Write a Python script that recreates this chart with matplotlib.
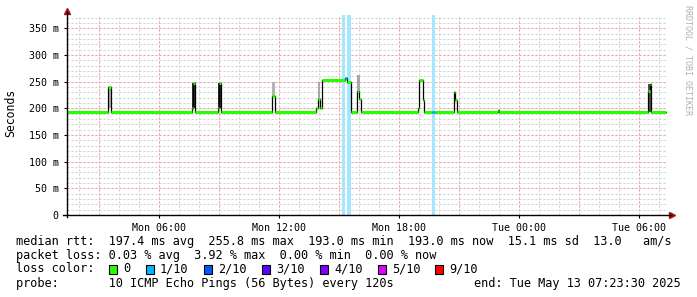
import numpy as np
import matplotlib
matplotlib.use("Agg")
import matplotlib.pyplot as plt
from matplotlib.patches import Rectangle

# median rtt (ms) as steps; time = hours since Mon 00:00
med_t = [1.40, 3.45, 3.60, 7.65, 7.72, 7.80, 8.95, 9.00, 9.08, 11.67, 11.78,
         13.85, 13.95, 14.03, 14.17, 15.28, 15.40, 15.60, 15.92, 16.00, 16.10,
         18.93, 18.98, 19.20, 19.25, 19.65, 19.80, 20.75, 20.82, 20.90,
         22.95, 23.00, 30.45, 30.55, 30.62, 31.35]
med_v = [193, 240, 193, 200, 248, 193, 200, 248, 193, 223, 193,
         200, 217, 200, 253, 256, 250, 193, 232, 218, 193,
         200, 253, 216, 193, 193, 193, 230, 216, 193,
         196, 193, 232, 245, 193]
med_loss = [0, 0, 0, 0, 0, 0, 0, 0, 0, 0, 0,
            0, 0, 0, 0, 1, 0, 0, 0, 0, 0,
            0, 0, 0, 0, 1, 0, 0, 0, 0,
            0, 0, 0, 0, 0]

# smoke (min/max spread of the pings)
smoke_t0 = [3.45, 7.65, 8.95, 11.67, 13.95, 15.92, 30.45]
smoke_t1 = [3.60, 7.80, 9.08, 11.78, 14.03, 16.05, 30.62]
smoke_lo = [200, 200, 200, 223, 217, 232, 193]
smoke_hi = [240, 248, 248, 250, 250, 262, 245]
smoke_col = ['#b4b4b4', '#303030', '#303030', '#b4b4b4', '#a8a8a8', '#a8a8a8', '#505050']

# loss bars
lossbar_t0 = [15.17, 15.42, 19.65]
lossbar_t1 = [15.32, 15.62, 19.80]

loss_labels = ['0', '1/10', '2/10', '3/10', '4/10', '5/10', '9/10']
loss_colors = ['#26ff00', '#00b8ff', '#0059ff', '#5e00ff', '#7e00ff', '#dd00ff', '#ff0000']

xtick_pos = [6, 12, 18, 24, 30]
xtick_lab = ['Mon 06:00', 'Mon 12:00', 'Mon 18:00', 'Tue 00:00', 'Tue 06:00']
ytick_pos = [0, 50, 100, 150, 200, 250, 300, 350]

W, H = 697, 297
mono = 'DejaVu Sans Mono'
fig = plt.figure(figsize=(W / 100, H / 100), dpi=100)
ax = fig.add_axes([67 / W, 82 / H, 600 / W, 200 / H])
ax.set_xlim(1.4, 31.4)
ax.set_ylim(0, 375)

kw = dict(lw=0.72, linestyles=(0, (2, 2)))
ax.vlines(np.arange(2, 32, 1), 0, 375, colors='#d0d0d0', zorder=0.5, **kw)
ax.hlines(np.arange(10, 375, 10), 1.4, 31.4, colors='#d0d0d0', zorder=0.5, **kw)
ax.vlines(np.arange(3, 32, 3), 0, 375, colors='#f0a0a0', zorder=0.6, **kw)
ax.hlines(np.arange(50, 375, 50), 1.4, 31.4, colors='#f0a0a0', zorder=0.6, **kw)

for a, b in zip(lossbar_t0, lossbar_t1):
    ax.axvspan(a, b, color='#a6e6ff', lw=0, zorder=1)

ax.bar(smoke_t0, np.array(smoke_hi) - np.array(smoke_lo), bottom=smoke_lo,
       width=np.array(smoke_t1) - np.array(smoke_t0), align='edge',
       color=smoke_col, lw=0, zorder=2)

ax.step(med_t, med_v + [med_v[-1]], where='post', color='black', lw=0.9, zorder=3)
ax.hlines(med_v, med_t[:-1], med_t[1:], colors=[loss_colors[i] for i in med_loss],
          lw=2.2, zorder=4)

for s in ax.spines.values():
    s.set_visible(False)
ax.plot([-0.007, 1.006], [0, 0], color='black', lw=1, transform=ax.transAxes, clip_on=False, zorder=5)
ax.plot([0, 0], [-0.01, 1.015], color='black', lw=1, transform=ax.transAxes, clip_on=False, zorder=5)
ax.plot([1.009], [0], marker='>', ms=4, color='#a01010', mec='#a01010',
        transform=ax.transAxes, clip_on=False)
ax.plot([0], [1.02], marker='^', ms=4, color='#a01010', mec='#a01010',
        transform=ax.transAxes, clip_on=False)

ax.set_xticks(xtick_pos)
ax.set_xticklabels(xtick_lab, fontfamily=mono, fontsize=7.2)
ax.set_yticks(ytick_pos)
ax.set_yticklabels([f'{v} m' if v else '0' for v in ytick_pos], fontfamily=mono, fontsize=7.2)
ax.tick_params(axis='both', length=2, width=0.8, color='black', pad=4)

fig.text(11 / W, 1 - 113 / H, 'Seconds', rotation=90, fontfamily=mono, fontsize=8.3,
         ha='center', va='center')
fig.text(688 / W, 1 - 60 / H, 'RRDTOOL / TOBI OETIKER', rotation=270, fontfamily=mono,
         fontsize=6, color='#b0b0b0', ha='center', va='center')

fs = 8.53
def line(y, s, x=16, ha='left'):
    fig.text(x / W, 1 - y / H, s, fontfamily=mono, fontsize=fs, ha=ha, va='center')

line(241, 'median rtt:  197.4 ms avg  255.8 ms max  193.0 ms min  193.0 ms now  15.1 ms sd  13.0   am/s')
line(255, 'packet loss: 0.03 % avg  3.92 % max  0.00 % min  0.00 % now')
line(269, 'loss color:')
sw_x = [109, 146, 204, 262, 320, 378, 435]
for x, lab, c in zip(sw_x, loss_labels, loss_colors):
    fig.patches.append(Rectangle((x / W, 1 - 273.5 / H), 8 / W, 9 / H, facecolor=c,
                                 edgecolor='black', lw=0.8, transform=fig.transFigure))
    line(269, lab, x=x + 14)
line(283, 'probe:       10 ICMP Echo Pings (56 Bytes) every 120s')
line(283, 'end: Tue May 13 07:23:30 2025', x=681, ha='right')

fig.savefig('out.png', dpi=100)
